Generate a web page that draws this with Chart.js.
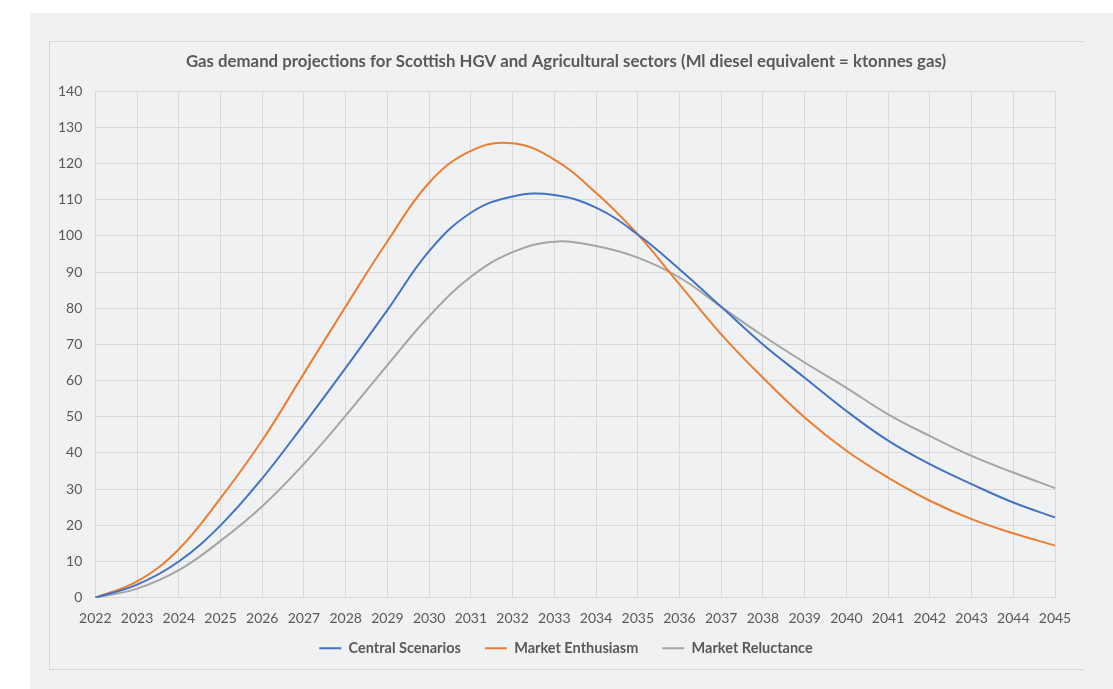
<!DOCTYPE html>
<html>
<head>
<meta charset="utf-8">
<script src="https://cdn.jsdelivr.net/npm/chart.js@4.4.0/dist/chart.umd.min.js"></script>
<style>
  html, body { margin: 0; padding: 0; background: #ffffff; }
  #wrap { position: relative; width: 1113px; height: 689px; }
  #panel { position: absolute; left: 30px; top: 13px; width: 1083px; height: 676px; background: #f0f1f3; }
  #frame { position: absolute; left: 49px; top: 41px; width: 1034px; height: 627px; border: 1px solid #d6d7d9; border-right: none; }
  canvas { position: absolute; left: 0; top: 0; }
</style>
</head>
<body>
<div id="wrap">
  <div id="panel"></div>
  <div id="frame"></div>
  <canvas id="chart" width="1113" height="689"></canvas>
</div>
<script>
  const years = [
    '2022', '2023', '2024', '2025', '2026', '2027', '2028', '2029',
    '2030', '2031', '2032', '2033', '2034', '2035', '2036', '2037',
    '2038', '2039', '2040', '2041', '2042', '2043', '2044', '2045',
  ];

  const centralScenarios = [
    0, 3.6, 10, 20, 33, 48, 63.5, 79.5, 95.8, 106.4, 110.9, 111.3,
    107.8, 100.4, 90.8, 80.4, 70, 60.8, 51.6, 43.4, 36.9, 31.4, 26.3, 22.2,
  ];

  const marketEnthusiasm = [
    0, 4.5, 13.4, 27.5, 43.5, 62, 80.5, 98.5, 114.7, 123.5, 125.6, 121.1,
    111.9, 100.4, 86.6, 72.8, 60.8, 49.8, 40.6, 33.2, 26.8, 21.7, 17.8, 14.4,
  ];

  const marketReluctance = [
    0, 2.5, 7.6, 15.7, 25.3, 37, 50.3, 64.3, 77.8, 88.7, 95.5, 98.4,
    97.2, 94, 88.5, 80.4, 72.4, 65, 58, 50.7, 44.7, 39.2, 34.6, 30.3,
  ];

  const title =
    'Gas demand projections for Scottish HGV and Agricultural sectors (Ml diesel equivalent = ktonnes gas)';

  const textColor = '#595959';
  const gridColor = '#d9d9d9';

  const line = (label, data, color) => ({
    label: label,
    data: data,
    borderColor: color,
    backgroundColor: color,
    borderWidth: 2,
    pointRadius: 0,
    pointStyle: 'line',
    tension: 0.4,
    fill: false,
  });

  // title and legend are centred on the whole frame, not on the plot area,
  // and the legend sits closer to the year labels than chart.js puts it
  const nudgeBoxes = {
    id: 'nudgeBoxes',
    afterLayout(chart) {
      const shift = 16;
      [chart.titleBlock, chart.legend].forEach((box) => {
        if (!box) return;
        box.left += shift;
        box.right += shift;
      });
      if (chart.legend) {
        chart.legend.top -= 21.5;
        chart.legend.bottom -= 21.5;
      }
    },
  };

  const ctx = document.getElementById('chart').getContext('2d');
  new Chart(ctx, {
    type: 'line',
    data: {
      labels: years,
      datasets: [
        line('Central Scenarios', centralScenarios, '#4472c4'),
        line('Market Enthusiasm', marketEnthusiasm, '#ed7d31'),
        line('Market Reluctance', marketReluctance, '#a5a5a5'),
      ],
    },
    options: {
      responsive: false,
      animation: false,
      layout: { padding: { left: 45, right: 58, top: 50, bottom: 2 } },
      plugins: {
        title: {
          display: true,
          text: title,
          color: textColor,
          font: { family: 'Lato', size: 16.8, weight: 'bold' },
          padding: { top: 2, bottom: 19 },
        },
        legend: {
          position: 'bottom',
          labels: {
            color: textColor,
            font: { family: 'Lato', size: 14.5, weight: 'bold' },
            usePointStyle: true,
            pointStyleWidth: 22,
            padding: 24,
          },
        },
        tooltip: { enabled: false },
      },
      scales: {
        x: {
          grid: { color: gridColor, drawTicks: false },
          border: { color: gridColor },
          ticks: {
            color: textColor,
            font: { family: 'Lato', size: 14 },
            padding: 12,
            maxRotation: 0,
            autoSkip: false,
          },
        },
        y: {
          min: 0,
          max: 140,
          grid: { color: gridColor, drawTicks: false },
          border: { color: gridColor },
          ticks: {
            stepSize: 10,
            color: textColor,
            font: { family: 'Lato', size: 14 },
            padding: 13,
          },
        },
      },
    },
    plugins: [nudgeBoxes],
  });
</script>
</body>
</html>
